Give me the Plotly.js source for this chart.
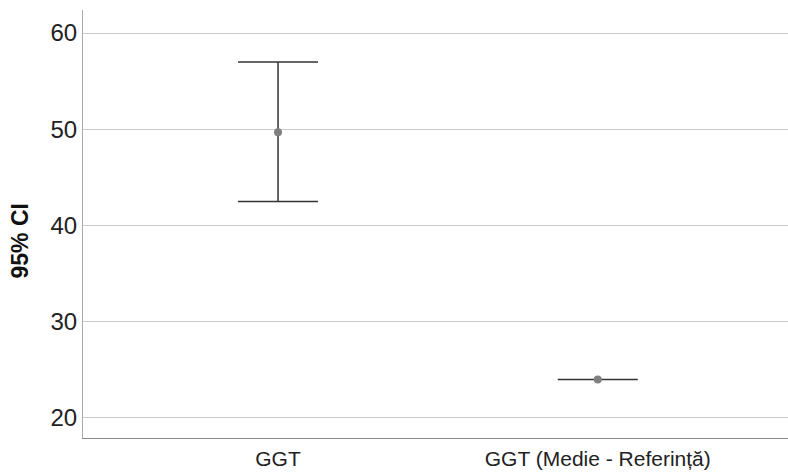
<!DOCTYPE html>
<html>
<head>
<meta charset="utf-8">
<script src="https://cdn.plot.ly/plotly-3.0.1.min.js"></script>
<style>html,body{margin:0;padding:0;background:#fff;}#chart{width:788px;height:472px;}</style>
</head>
<body>
<div id="chart"></div>
<script>
var categories = ["GGT", "GGT (Medie - Referință)"];
var means = [49.7, 24.0];
var upper = [57.0, 24.0];
var lower = [42.5, 24.0];
var yTicks = [20, 30, 40, 50, 60];
var yTitle = "95% CI";

var errPlus = means.map(function(m, i){ return upper[i] - m; });
var errMinus = means.map(function(m, i){ return m - lower[i]; });

var trace = {
  type: "scatter",
  mode: "markers",
  x: [0, 1],
  y: means,
  marker: {color: "#7f7f7f", size: 8},
  error_y: {type: "data", symmetric: false, array: errPlus, arrayminus: errMinus,
            color: "#333333", thickness: 1.5, width: 40},
  hoverinfo: "none",
  cliponaxis: false
};

var layout = {
  width: 788, height: 472,
  margin: {l: 83, r: 0, t: 10, b: 34},
  paper_bgcolor: "#ffffff",
  plot_bgcolor: "#ffffff",
  showlegend: false,
  font: {family: "Liberation Sans, Arial, sans-serif", color: "#222222"},
  xaxis: {
    range: [-0.61, 1.595],
    tickvals: [0, 1],
    ticktext: categories,
    showgrid: false,
    zeroline: false,
    showline: true,
    linecolor: "#888888",
    linewidth: 1,
    ticks: "",
    ticklabelstandoff: 2,
    tickfont: {size: 21, color: "#222222"},
    automargin: false,
    fixedrange: true
  },
  yaxis: {
    range: [17.92, 62.39],
    tickvals: yTicks,
    showgrid: true,
    gridcolor: "#cccccc",
    gridwidth: 1,
    zeroline: false,
    showline: true,
    linecolor: "#aaaaaa",
    linewidth: 1,
    ticks: "",
    tickfont: {size: 24, color: "#222222"},
    automargin: false,
    fixedrange: true
  },
  annotations: [{
    text: "<b>" + yTitle + "</b>",
    xref: "paper", yref: "paper",
    x: -0.0887, y: 0.4603,
    xanchor: "center", yanchor: "middle",
    textangle: -90,
    showarrow: false,
    font: {size: 23, color: "#111111", family: "Liberation Sans, Arial, sans-serif"}
  }]
};

Plotly.newPlot("chart", [trace], layout, {displayModeBar: false, staticPlot: true});
</script>
</body>
</html>
